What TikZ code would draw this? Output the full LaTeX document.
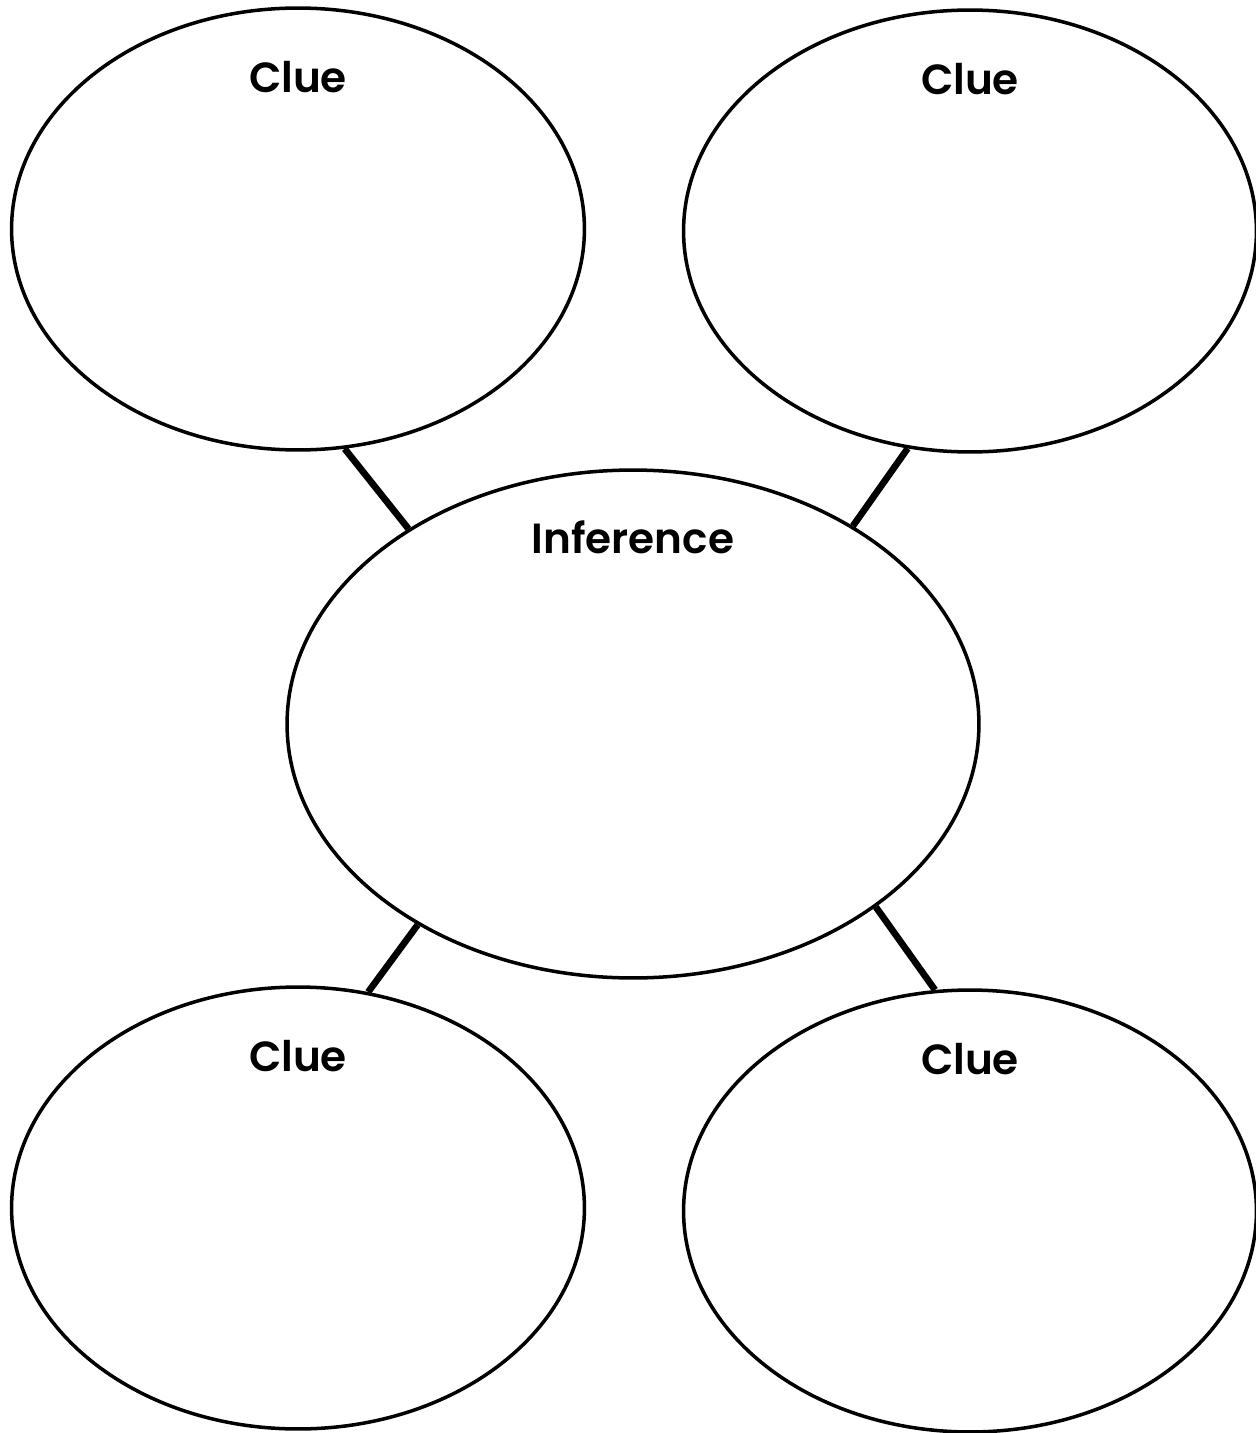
\documentclass[tikz,border=0pt]{standalone}
\usepackage{fontspec}
\setmainfont{Poppins}[BoldFont={Poppins SemiBold}]
\usetikzlibrary{shapes.geometric}
\usetikzlibrary{positioning}

\begin{document}
\begin{tikzpicture}[x=0.02cm, y=-0.02cm,
  clue/.style={ellipse, draw, line width=2pt, minimum width=11.46cm, minimum height=8.84cm, inner sep=0pt},
  guess/.style={ellipse, draw, line width=2pt, minimum width=13.84cm, minimum height=10.16cm, inner sep=0pt},
  title/.style={inner sep=0pt, font=\fontsize{24pt}{28pt}\selectfont\bfseries},
  link/.style={line width=3.8pt}]

\useasboundingbox (0,0) rectangle (1256,1433);

\node[clue] (tl) at (298, 229) {};
\node[clue] (tr) at (970, 231) {};
\node[guess] (mid) at (633, 724) {};
\node[clue] (bl) at (298, 1208) {};
\node[clue] (br) at (970, 1211) {};

\node[title, below=1.1cm of tl.north] (tltxt) {Clue};
\node[title, below=1.1cm of tr.north] (trtxt) {Clue};
\node[title, below=1.04cm of mid.north] (midtxt) {Inference};
\node[title, below=1.1cm of bl.north] (bltxt) {Clue};
\node[title, below=1.1cm of br.north] (brtxt) {Clue};

\draw[link] (tl.-78.4) -- (mid.139.1);
\draw[link] (tr.-106.1) -- (mid.42.8);
\draw[link] (mid.-137) -- (bl.72.3);
\draw[link] (mid.-37.9) -- (br.99.5);

\end{tikzpicture}
\end{document}
